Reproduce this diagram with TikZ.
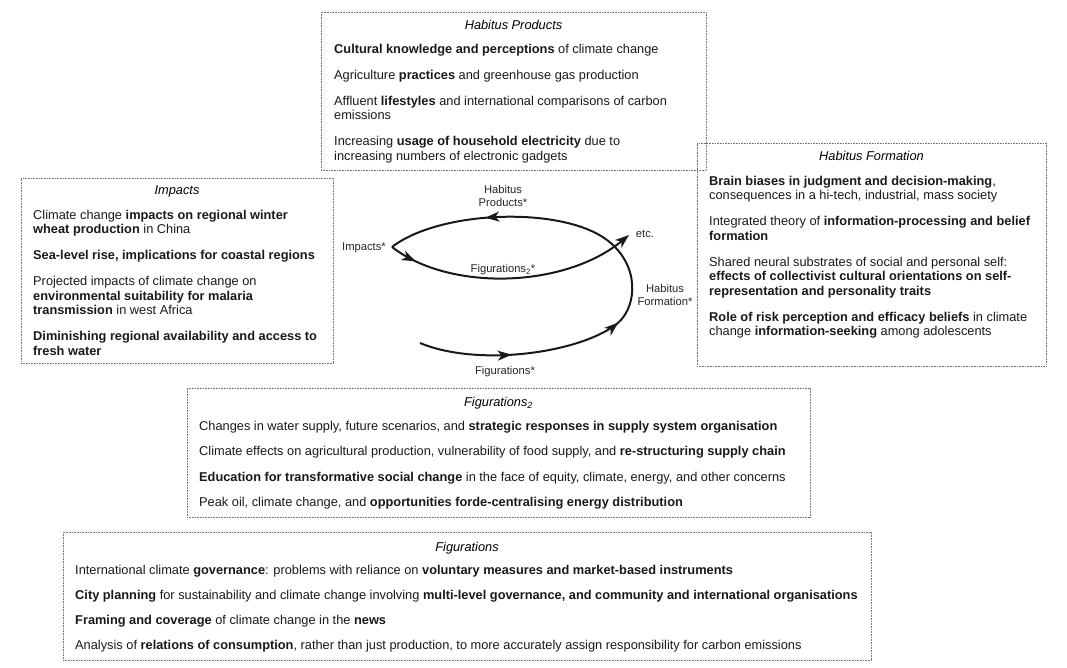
\documentclass[tikz,border=0pt]{standalone}
\usepackage{fontspec}
\setmainfont{Liberation Sans}
\usetikzlibrary{arrows.meta, decorations.markings, positioning}

\begin{document}
\begin{tikzpicture}[x=1pt, y=-1pt,
    box/.style={draw=black!55, dash pattern=on 0.7pt off 0.9pt, line width=0.6pt, inner sep=0pt, outer sep=0pt, anchor=north west},
    boxtitle/.style={font=\fontsize{12.8}{14.5}\selectfont\itshape, anchor=base, inner sep=0pt},
    boxbody/.style={font=\fontsize{12.8}{14.5}\selectfont, align=left, anchor=north west, inner sep=0pt, text=black!90},
    lbl/.style={font=\fontsize{11.2}{13}\selectfont, align=center, inner sep=0pt, text=black!85},
    flow/.style={line width=2pt, black!90},
    flowmark/.style={postaction={decorate, decoration={markings, mark=at position #1 with {\arrow{Stealth[length=14pt, width=10pt, inset=4pt]}}}}}]
        \useasboundingbox (0,0) rectangle (1067,668);
        % boxes
        \node[box, minimum width=385, minimum height=158] (hpbox) at (321,12) {};
        \node[box, minimum width=349, minimum height=223] (hfbox) at (697,143) {};
        \node[box, minimum width=312, minimum height=185] (impbox) at (21,178) {};
        \node[box, minimum width=623, minimum height=129] (figtwobox) at (187,388) {};
        \node[box, minimum width=808, minimum height=128] (figbox) at (63,532) {};
        \node[boxtitle] (hptitle) at (513.5,30) {Habitus Products};
        \node[boxtitle] (hftitle) at (871.5,161) {Habitus Formation};
        \node[boxtitle] (imptitle) at (177,195) {Impacts};
        \node[boxtitle] (figtwotitle) at (498.5,406) {Figurations\textsubscript{2}};
        \node[boxtitle] (figtitle) at (467,551) {Figurations};
        \node[boxbody] (hpbody) at (334,44) {\textbf{Cultural knowledge and perceptions} of climate change\\[11.5pt]
            Agriculture \textbf{practices} and greenhouse gas production\\[11.5pt]
            Affluent \textbf{lifestyles} and international comparisons of carbon\\
            emissions\\[11.5pt]
            Increasing \textbf{usage of household electricity} due to\\
            increasing numbers of electronic gadgets};
        \node[boxbody] (hfbody) at (709,176) {\textbf{Brain biases in judgment and decision-making},\\
            consequences in a hi-tech, industrial, mass society\\[11.5pt]
            Integrated theory of \textbf{information-processing and belief}\\
            \textbf{formation}\\[11.5pt]
            Shared neural substrates of social and personal self:\\
            \textbf{effects of collectivist cultural orientations on self-}\\
            \textbf{representation and personality traits}\\[11.5pt]
            \textbf{Role of risk perception and efficacy beliefs} in climate\\
            change \textbf{information-seeking} among adolescents};
        \node[boxbody] (impbody) at (33,210) {Climate change \textbf{impacts on regional winter}\\
            \textbf{wheat production} in China\\[11.5pt]
            \textbf{Sea-level rise, implications for coastal regions}\\[11.5pt]
            Projected impacts of climate change on\\
            \textbf{environmental suitability for malaria}\\
            \textbf{transmission} in west Africa\\[11.5pt]
            \textbf{Diminishing regional availability and access to}\\
            \textbf{fresh water}};
        \node[boxbody] (figtwobody) at (199,421) {Changes in water supply, future scenarios, and \textbf{strategic responses in supply system organisation}\\[11pt]
            Climate effects on agricultural production, vulnerability of food supply, and \textbf{re-structuring supply chain}\\[11pt]
            \textbf{Education for transformative social change} in the face of equity, climate, energy, and other concerns\\[11pt]
            Peak oil, climate change, and \textbf{opportunities forde-centralising energy distribution}};
        \node[boxbody] (figbody) at (75,565) {International climate \textbf{governance}: problems with reliance on \textbf{voluntary measures and market-based instruments}\\[10.5pt]
            \textbf{City planning} for sustainability and climate change involving \textbf{multi-level governance, and community and international organisations}\\[10.5pt]
            \textbf{Framing and coverage} of climate change in the \textbf{news}\\[10.5pt]
            Analysis of \textbf{relations of consumption}, rather than just production, to more accurately assign responsibility for carbon emissions};
        % cycle
        \coordinate (figstart) at (420,343);
        \coordinate (hfpt) at (619,322);
        \coordinate (crosspt) at (607,240);
        \coordinate (cusp) at (392,247);
        \coordinate (etcend) at (629,235);
        \draw[flow, flowmark=0.45, flowmark=0.995] (figstart) .. controls (480,368) and (585,352) .. (hfpt);
        \draw[flow] (hfpt) .. controls (637,305) and (640,265) .. (crosspt);
        \draw[flow, flowmark=0.56] (crosspt) .. controls (562,206) and (440,210) .. (cusp);
        \draw[flow, flowmark=0.11, -{Stealth[length=14pt, width=10pt, inset=4pt]}] (cusp) .. controls (450,292) and (565,288) .. (etcend);
        \node[lbl] (hplbl) at (503,196) {Habitus\\Products*};
        \node[lbl, anchor=east] (implbl) at (386,248) {Impacts*};
        \node[lbl] (etclbl) at (645,234) {etc.};
        \node[lbl] (figtwolbl) at (503,270) {Figurations\textsubscript{2}*};
        \node[lbl] (hflbl) at (665,295) {Habitus\\Formation*};
        \node[lbl] (figlbl) at (505,372) {Figurations*};
\end{tikzpicture}
\end{document}
